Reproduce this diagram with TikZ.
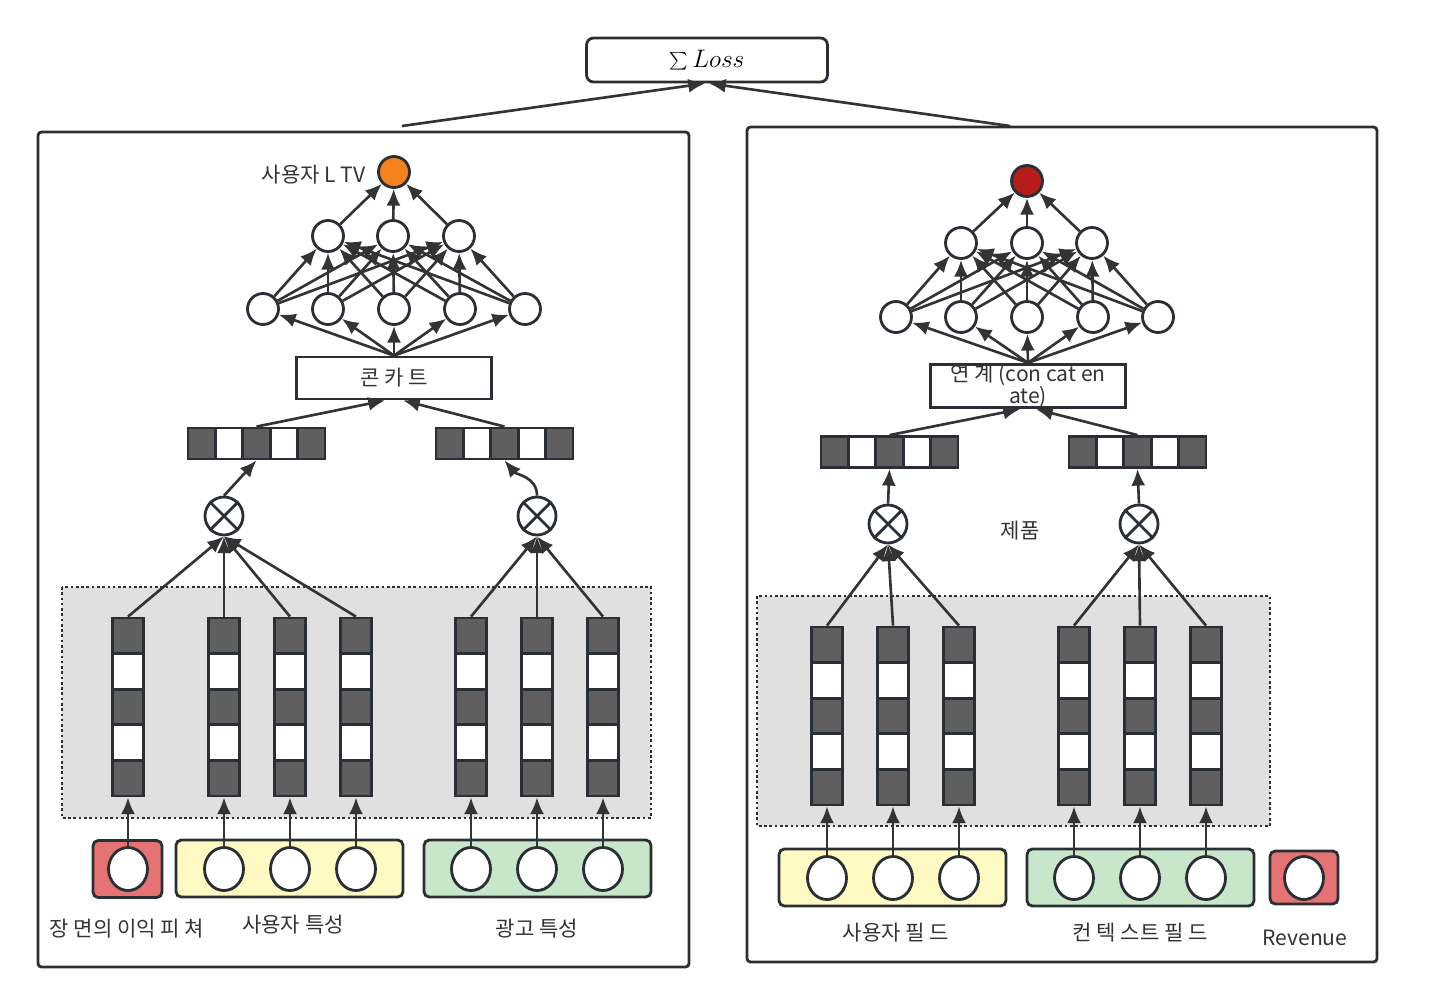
\documentclass[tikz,border=0pt]{standalone}
\usepackage{fontspec}
\setmainfont{Noto Sans CJK KR}
\usetikzlibrary{arrows.meta,positioning,calc,shapes.geometric}
\definecolor{ink}{HTML}{2A2F36}
\definecolor{wire}{HTML}{333333}
\definecolor{cellgray}{HTML}{5F5F5F}
\definecolor{ltvorange}{HTML}{F5821F}
\definecolor{revred}{HTML}{B71C1C}
\definecolor{boxred}{HTML}{E57373}
\definecolor{boxyellow}{HTML}{FFF9C4}
\definecolor{boxgreen}{HTML}{C8E6C9}
\definecolor{groupgray}{HTML}{E0E0E0}
\tikzset{
  neuron/.style={circle,draw=ink,line width=1.6pt,fill=white,minimum size=0.62cm,inner sep=0pt},
  feat/.style={ellipse,draw=ink,line width=1.6pt,fill=white,minimum width=0.78cm,minimum height=0.86cm,inner sep=0pt},
  prod/.style={circle,draw=ink,line width=1.6pt,fill=white,minimum size=0.76cm,inner sep=0pt},
  hcell/.style={rectangle,draw=ink,line width=1.6pt,minimum width=0.548cm,minimum height=0.62cm,inner sep=0pt},
  vcell/.style={rectangle,draw=ink,line width=1.6pt,minimum width=0.62cm,minimum height=0.712cm,inner sep=0pt},
  catbox/.style={rectangle,draw=ink,line width=1.6pt,fill=white,minimum width=3.9cm,minimum height=0.84cm,inner sep=0pt,align=center},
  inbox/.style={rectangle,rounded corners=3pt,draw=ink,line width=1.6pt,minimum height=1.14cm},
  panel/.style={draw=ink,line width=1.6pt,rounded corners=2pt},
  group/.style={draw=ink,line width=1.6pt,dash pattern=on 1.5pt off 1.5pt,fill=groupgray},
  arr/.style={-{Latex[length=9.5pt,width=8pt]},draw=wire,line width=1.5pt},
  lab/.style={text=wire,font=\fontsize{12pt}{12.5pt}\selectfont,inner sep=0pt}
}
% embedding row / column, cells #11 .. #15
\newcommand{\embrow}[3]{\foreach \c/\cf in {1/cellgray,2/white,3/cellgray,4/white,5/cellgray}
  \node[hcell,fill=\cf] (#1\c) at ({#2+(\c-3)*27.4},#3) {};}
\newcommand{\embcol}[3]{\foreach \c/\cf in {1/cellgray,2/white,3/cellgray,4/white,5/cellgray}
  \node[vcell,fill=\cf] (#1\c) at (#2,{#3+(\c-0.5)*35.6}) {};}
\newcommand{\crossit}[1]{\draw[ink,line width=1.6pt] (#1.north west) -- (#1.south east);\draw[ink,line width=1.6pt] (#1.north east) -- (#1.south west);}
\begin{document}
\begin{tikzpicture}[x=0.02cm,y=-0.02cm]
    \useasboundingbox (0,0) rectangle (1432,1004);
    % loss
    \node[draw=ink,line width=1.6pt,rounded corners=4pt,minimum width=4.82cm,minimum height=0.88cm,inner sep=0pt,font=\fontsize{14pt}{16pt}\selectfont] (loss) at (707,60) {$\sum Loss$};
    \coordinate (lup) at (402,126);\coordinate (rup) at (1010,126);
    \draw[arr] (lup) -- ($(loss.south)+(-2,0)$);\draw[arr] (rup) -- ($(loss.south)+(2,0)$);
    % panels
    \draw[panel] (38,132) rectangle (689,967);
    \draw[panel] (747,127) rectangle (1377,962);

    % left tower
    \draw[group] (62,587) rectangle (651,818);
    \node[neuron,fill=ltvorange] (lout) at (394,172) {};
    \node[lab,anchor=east] (loutlab) at (366,175) {사용자 L TV};
    \foreach \i/\x in {1/328,2/393,3/459} \node[neuron] (lh\i) at (\x,236) {};
    \foreach \i/\x in {1/263,2/328,3/394,4/460,5/525} \node[neuron] (lg\i) at (\x,309) {};
    \node[catbox,lab] (lcat) at (394,378) {콘 카 트};
    \foreach \j in {1,...,5} {\draw[arr] (lcat.north) -- (lg\j);
      \foreach \k in {1,2,3} \draw[arr] (lg\j) -- (lh\k);}
    \foreach \k in {1,2,3} \draw[arr] (lh\k) -- (lout);
    \embrow{lra}{256.5}{443.5}\embrow{lrb}{504.5}{443.5}
    \draw[arr] (lra3.north) -- ($(lcat.south)+(-9,0)$);\draw[arr] (lrb3.north) -- ($(lcat.south)+(9,0)$);
    \node[prod] (lx1) at (224,516) {};\node[prod] (lx2) at (537,516) {};
    \crossit{lx1}\crossit{lx2}
    \draw[arr] (lx1.north) -- (lra3.south);
    \draw[arr] (lx2.north) to[out=90,in=-50] (lrb3.south);
    \foreach \n/\x in {a/128,b/224,c/290,d/356,e/471,f/537,g/603} {\embcol{lc\n}{\x}{618}}
    \foreach \n in {a,b,c,d} {\draw[arr] (lc\n1.north) -- (lx1.south);}
    \foreach \n in {e,f,g} {\draw[arr] (lc\n1.north) -- (lx2.south);}
    % left inputs
    \node[inbox,fill=boxred,minimum width=1.38cm] (lred) at (127.5,869) {};
    \node[inbox,fill=boxyellow,minimum width=4.54cm] (lyel) at (289.5,868.5) {};
    \node[inbox,fill=boxgreen,minimum width=4.54cm] (lgrn) at (537.5,868.5) {};
    \foreach \n/\x in {a/128,b/224,c/290,d/356,e/471,f/537,g/603} {\node[feat] (lf\n) at (\x,869) {};\draw[arr] (lf\n.north) -- (lc\n5.south);}
    \node[lab] (lredlab) at (127,929) {장 면의 이익 피 쳐};
    \node[lab] (lyellab) at (293,925) {사용자 특성};
    \node[lab] (lgrnlab) at (537,929) {광고 특성};

    % right tower
    \draw[group] (757,596) rectangle (1270,826);
    \node[neuron,fill=revred] (rout) at (1027,181) {};
    \foreach \i/\x in {1/961,2/1027,3/1092} \node[neuron] (rh\i) at (\x,243) {};
    \foreach \i/\x in {1/896,2/961,3/1027,4/1093,5/1158} \node[neuron] (rg\i) at (\x,317) {};
    \node[catbox,lab] (rcat) at (1028,386) {연 계 (con cat en\\ate)};
    \foreach \j in {1,...,5} {\draw[arr] (rcat.north) -- (rg\j);
      \foreach \k in {1,2,3} \draw[arr] (rg\j) -- (rh\k);}
    \foreach \k in {1,2,3} \draw[arr] (rh\k) -- (rout);
    \embrow{rra}{889.5}{452}\embrow{rrb}{1137.5}{452}
    \draw[arr] (rra3.north) -- ($(rcat.south)+(-8,0)$);\draw[arr] (rrb3.north) -- ($(rcat.south)+(8,0)$);
    \node[prod] (rx1) at (888,524) {};\node[prod] (rx2) at (1139,524) {};
    \crossit{rx1}\crossit{rx2}
    \node[lab] (rxlab) at (1020,531) {제품};
    \draw[arr] (rx1.north) -- (rra3.south);\draw[arr] (rx2.north) -- (rrb3.south);
    \foreach \n/\x in {a/827,b/893,c/959,d/1074,e/1140,f/1206} {\embcol{rc\n}{\x}{627}}
    \foreach \n in {a,b,c} {\draw[arr] (rc\n1.north) -- (rx1.south);}
    \foreach \n in {d,e,f} {\draw[arr] (rc\n1.north) -- (rx2.south);}
    % right inputs
    \node[inbox,fill=boxyellow,minimum width=4.54cm] (ryel) at (892.5,877.5) {};
    \node[inbox,fill=boxgreen,minimum width=4.54cm] (rgrn) at (1140.5,877.5) {};
    \node[inbox,fill=boxred,minimum width=1.36cm,minimum height=1.06cm] (rred) at (1304,877.5) {};
    \foreach \n/\x in {a/827,b/893,c/959,d/1074,e/1140,f/1206} {\node[feat] (rf\n) at (\x,878) {};\draw[arr] (rf\n.north) -- (rc\n5.south);}
    \node[feat] (rrev) at (1304,878) {};
    \node[lab] (ryellab) at (896,933) {사용자 필 드};
    \node[lab] (rgrnlab) at (1140,933) {컨 텍 스트 필 드};
    \node[lab] (rredlab) at (1305,938) {Revenue};
\end{tikzpicture}
\end{document}
